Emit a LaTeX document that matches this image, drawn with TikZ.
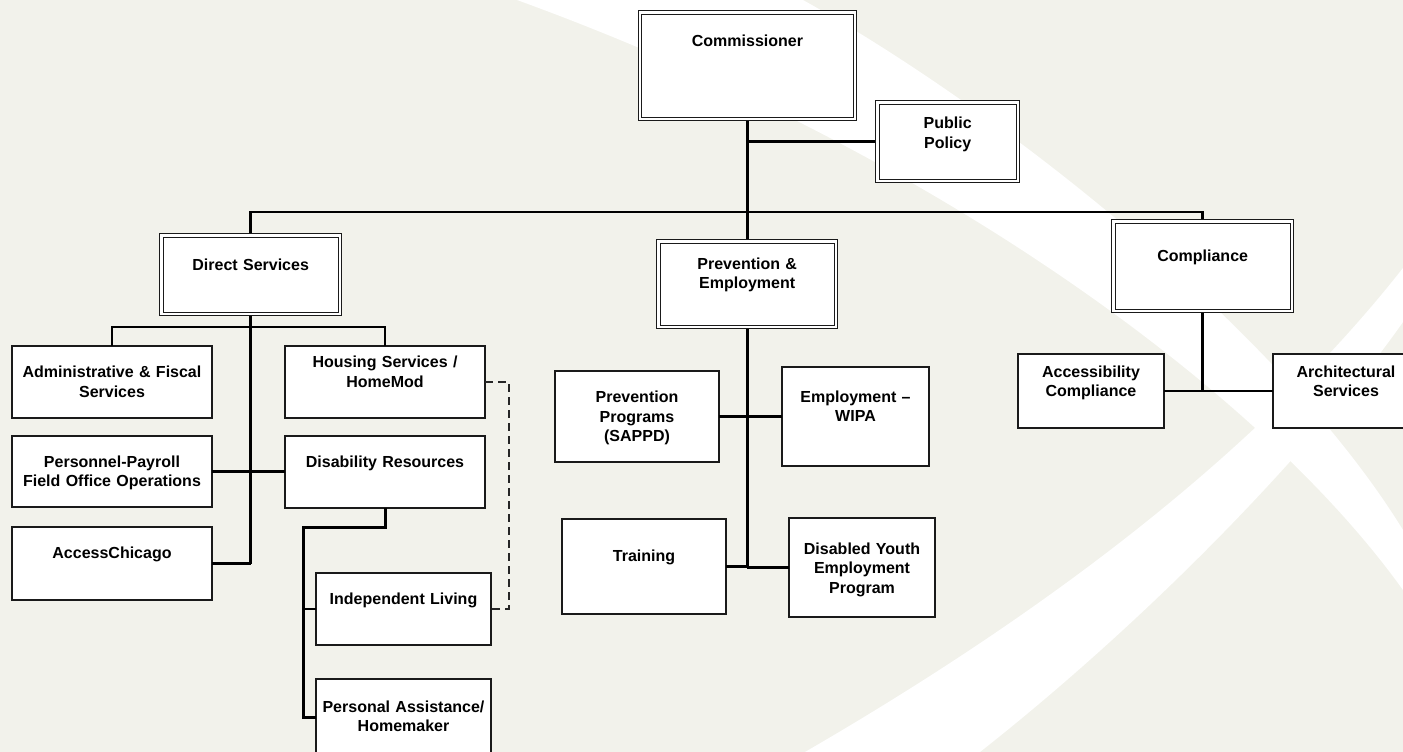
\documentclass[tikz,border=0pt]{standalone}
\usepackage{fontspec}
\setmainfont{Liberation Sans}
\definecolor{PageBeige}{RGB}{242,242,235}
\definecolor{BoxLine}{HTML}{1A1A1A}
\usetikzlibrary{calc}
\newcommand{\boxfont}{\bfseries\fontsize{16}{19.5}\selectfont}
\tikzset{
  unit/.style={draw=BoxLine, line width=1.4pt, fill=white, align=center, inner xsep=0pt, inner ysep=0pt, outer sep=0pt, anchor=north west, font=\boxfont, text=black},
  headunit/.style={unit, double=white, double distance=2.4pt, line width=1pt, outer sep=2.2pt},
  link/.style={draw=black, line width=2.5pt},
  spine/.style={draw=black, line width=3pt},
  dashlink/.style={draw=black!85, line width=1.3pt, dash pattern=on 8pt off 5pt}
}
\begin{document}
\begin{tikzpicture}[x=1pt,y=-1pt]
  \useasboundingbox (0,0) rectangle (1403,752);
  \fill[PageBeige] (0,0) rectangle (1403,752);
  \begin{scope}
    \clip (0,0) rectangle (1403,752);
    \fill[white] (517,0) .. controls (930,150) and (1260,390) .. (1403,590)
      -- (1403,530) .. controls (1280,330) and (1000,110) .. (803,0) -- cycle;
    \fill[white] (805,752) .. controls (1050,610) and (1260,450) .. (1403,268)
      -- (1403,322) .. controls (1320,440) and (1160,610) .. (980,752) -- cycle;
  \end{scope}

  \node[headunit, text width=215.5pt, text height=34.5pt, text depth=72pt] (comm) at (637.5,10.25) {Commissioner};
  \node[headunit, text width=140.5pt, text height=26.5pt, text depth=52pt] (policy) at (875.25,100.25) {Public\\Policy};

  \node[headunit, text width=178.5pt, text height=35pt, text depth=43.5pt] (direct) at (159.25,233.25) {Direct Services};
  \node[headunit, text width=177.5pt, text height=28pt, text depth=57.5pt] (preemp) at (656.25,239.25) {Prevention \&\\Employment};
  \node[headunit, text width=178.5pt, text height=40pt, text depth=49.5pt] (compl) at (1111.25,219.25) {Compliance};

  \node[unit, text width=200pt, text height=31.5pt, text depth=40.5pt] (admin) at (12,346) {Administrative \& Fiscal\\Services};
  \node[unit, text width=200pt, text height=31pt, text depth=40pt] (personnel) at (12,436) {Personnel-Payroll\\Field Office Operations};
  \node[unit, text width=200pt, text height=31.5pt, text depth=41.5pt] (access) at (12,527) {AccessChicago};
  \node[unit, text width=200pt, text height=21.5pt, text depth=50.5pt] (housing) at (285,346) {Housing Services /\\HomeMod};
  \node[unit, text width=200pt, text height=31.5pt, text depth=40.5pt] (disres) at (285,436) {Disability Resources};
  \node[unit, text width=175pt, text height=31.5pt, text depth=40.5pt] (indliv) at (316,573) {Independent Living};
  \node[unit, text width=175pt, text height=33pt, text depth=43pt] (persass) at (316,679) {Personal Assistance/\\Homemaker};

  \node[unit, text width=164pt, text height=31.5pt, text depth=59.5pt] (prevprog) at (555,371) {Prevention\\Programs\\(SAPPD)};
  \node[unit, text width=147pt, text height=35pt, text depth=64pt] (empwipa) at (782,367) {Employment --\\WIPA};
  \node[unit, text width=164pt, text height=42.5pt, text depth=52.5pt] (training) at (562,519) {Training};
  \node[unit, text width=146pt, text height=36pt, text depth=63pt] (youth) at (789,518) {Disabled Youth\\Employment\\Program};

  \node[unit, text width=146pt, text height=23pt, text depth=51pt] (accomp) at (1018,354) {Accessibility\\Compliance};
  \node[unit, text width=146pt, text height=23pt, text depth=51pt] (arch) at (1273,354) {Architectural\\Services};

  \coordinate (barlevel) at (0,212);
  \coordinate (dslevel) at (0,327);
  \coordinate (drbend) at (303,527);
  \coordinate (bar) at (comm.south |- barlevel);

  \draw[spine] (comm.south) -- (bar);
  \draw[link] (bar) -- (bar |- preemp.north);
  \draw[link] (policy.west) -- (policy.west -| comm.south);
  \draw[link] (direct.north) -- (direct.north |- bar) -- (compl.north |- bar) -- (compl.north);

  \draw[spine] (direct.south) -- (direct.south |- access.east);
  \draw[link] (admin.north) -- (admin.north |- dslevel) -- (housing.north |- dslevel) -- (housing.north);
  \draw[link] (personnel.east) -- (personnel.east -| disres.west);
  \draw[link] (access.east) -- (access.east -| direct.south);
  \draw[spine] (disres.south) |- (drbend) |- (persass.west);
  \draw[link] (indliv.west) -- (indliv.west -| drbend);
  \draw[dashlink] (housing.east) -- ++(24,0) |- (indliv.east);

  \draw[spine] (preemp.south) -- (preemp.south |- youth.west);
  \draw[link] (prevprog.east) -- (empwipa.west);
  \draw[link] (training.east) -- (training.east -| preemp.south);
  \draw[link] (youth.west) -- (youth.west -| preemp.south);

  \draw[spine] (compl.south) -- (compl.south |- accomp.east);
  \draw[link] (accomp.east) -- (arch.west);
\end{tikzpicture}
\end{document}
